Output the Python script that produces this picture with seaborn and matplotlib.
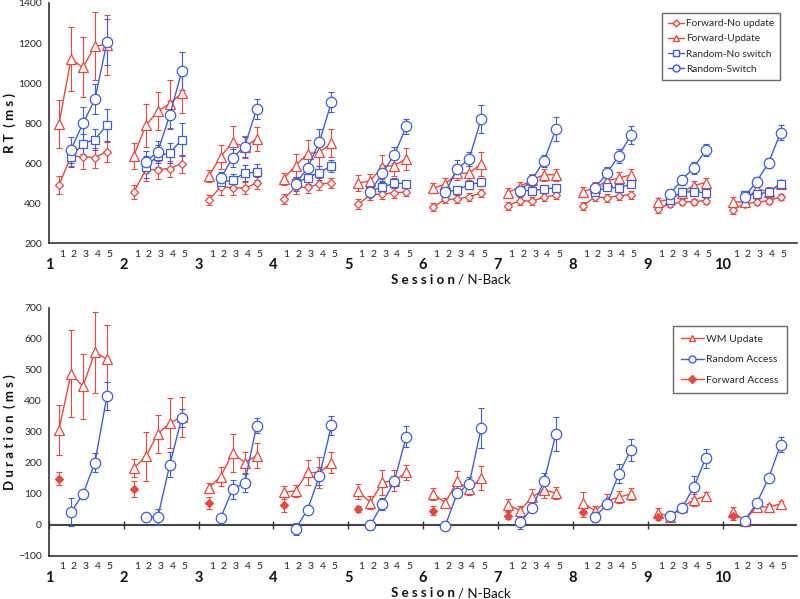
import matplotlib
matplotlib.use("Agg")
import matplotlib.pyplot as plt
from matplotlib.lines import Line2D
from matplotlib.ticker import MultipleLocator
import numpy as np
import pandas as pd
import seaborn as sns

sns.set_style("white")
plt.rcParams["font.family"] = ["Lato", "DejaVu Sans"]

RED = "#E5483F"
BLUE = "#3D5ED8"

sessions = list(range(1, 11))
nback_fwd = [1, 2, 3, 4, 5]
nback_rnd = [2, 3, 4, 5]

# ---- top panel: RT (ms), one list per session ----
fwd_noupd = [[490, 635, 632, 628, 658], [455, 568, 568, 573, 598], [415, 482, 478, 475, 500],
             [420, 480, 480, 495, 502], [395, 443, 445, 453, 455], [380, 420, 420, 433, 450],
             [388, 413, 410, 430, 440], [388, 430, 428, 437, 443], [372, 397, 405, 408, 413],
             [367, 397, 405, 413, 430]]
fwd_noupd_err = [[45, 50, 60, 50, 50], [35, 55, 45, 40, 45], [25, 40, 35, 30, 30],
                 [25, 35, 30, 30, 25], [25, 25, 25, 25, 20], [20, 20, 20, 20, 20],
                 [20, 20, 20, 20, 20], [20, 20, 20, 20, 20], [20, 15, 15, 15, 15],
                 [20, 15, 15, 15, 15]]
fwd_upd = [[795, 1120, 1078, 1185, 1192], [637, 788, 860, 897, 950], [535, 632, 705, 680, 722],
           [522, 588, 647, 655, 700], [500, 512, 583, 588, 622], [475, 495, 550, 550, 597],
           [453, 483, 517, 542, 542], [458, 475, 512, 525, 542], [407, 420, 453, 488, 503],
           [407, 405, 472, 457, 495]]
fwd_upd_err = [[120, 160, 150, 170, 150], [65, 105, 95, 120, 100], [30, 60, 80, 55, 60],
               [30, 60, 70, 70, 70], [40, 35, 60, 50, 55], [25, 30, 35, 35, 60],
               [25, 25, 30, 30, 30], [25, 30, 30, 30, 30], [20, 20, 25, 25, 25],
               [25, 20, 25, 25, 20]]
rnd_nosw = [[630, 698, 718, 790], [583, 637, 650, 718], [505, 515, 550, 555],
            [500, 528, 553, 588], [462, 480, 500, 498], [455, 467, 492, 505],
            [463, 463, 470, 477], [455, 480, 475, 497], [415, 458, 455, 453],
            [442, 445, 455, 498]]
rnd_nosw_err = [[50, 50, 50, 80], [55, 55, 50, 80], [25, 30, 40, 40], [30, 30, 35, 30],
                [25, 25, 25, 20], [20, 20, 20, 20], [20, 20, 20, 20], [20, 20, 20, 20],
                [20, 20, 20, 20], [20, 20, 20, 20]]
rnd_sw = [[668, 798, 918, 1203], [607, 658, 840, 1058], [525, 628, 683, 870],
          [497, 575, 708, 905], [458, 550, 642, 783], [455, 570, 622, 820],
          [463, 517, 613, 770], [475, 550, 638, 740], [445, 515, 578, 665],
          [433, 508, 603, 753]]
rnd_sw_err = [[65, 80, 75, 115], [55, 55, 70, 95], [30, 45, 50, 50], [35, 50, 60, 50],
              [25, 40, 40, 35], [25, 45, 35, 70], [25, 25, 30, 60], [25, 30, 35, 45],
              [20, 25, 30, 30], [20, 25, 25, 35]]

# ---- bottom panel: Duration (ms) ----
wm_upd = [[307, 488, 447, 557, 535], [183, 221, 293, 329, 348], [119, 156, 232, 201, 223],
          [105, 110, 169, 169, 201], [108, 72, 137, 143, 169], [99, 72, 140, 115, 151],
          [65, 46, 90, 113, 102], [70, 46, 76, 90, 99], [38, 27, 57, 81, 92],
          [42, 14, 59, 57, 68]]
wm_upd_err = [[80, 140, 105, 130, 110], [30, 80, 60, 80, 65], [15, 30, 60, 35, 40],
              [20, 20, 40, 50, 35], [25, 20, 40, 35, 25], [20, 15, 35, 20, 40],
              [20, 15, 25, 25, 20], [35, 15, 25, 20, 20], [15, 15, 15, 20, 15],
              [15, 10, 10, 10, 10]]
rnd_acc = [[41, 99, 201, 415], [25, 25, 194, 345], [23, 115, 135, 320], [-13, 49, 158, 321],
           [0, 68, 142, 285], [-3, 102, 133, 312], [8, 54, 142, 294], [25, 67, 165, 242],
           [29, 54, 122, 215], [14, 70, 151, 259]]
rnd_acc_err = [[45, 15, 30, 45], [5, 25, 40, 30], [5, 30, 30, 25], [20, 5, 30, 30],
               [15, 20, 15, 35], [15, 10, 20, 65], [20, 5, 25, 55], [15, 10, 30, 35],
               [15, 10, 35, 30], [10, 10, 10, 25]]
fwd_acc = [149, 115, 70, 65, 52, 46, 30, 40, 27, 30]
fwd_acc_err = [20, 25, 20, 25, 10, 15, 10, 15, 10, 15]

GROUP = 6.25
SHIFT = -0.15


def to_frame(values, errors, nbacks):
    rows = []
    for s, vals, errs in zip(sessions, values, errors):
        for n, v, e in zip(nbacks, vals, errs):
            rows.append({"session": s, "nback": n, "x": (s - 1) * GROUP + n + SHIFT,
                         "y": v, "err": e})
    return pd.DataFrame(rows)


def draw(ax, df, color, marker, ms, filled=False):
    ax.errorbar(df["x"], df["y"], yerr=df["err"], fmt="none", ecolor=color,
                elinewidth=0.8, capsize=2, capthick=0.8, zorder=1)
    sns.lineplot(data=df, x="x", y="y", units="session", estimator=None, ax=ax,
                 color=color, lw=1.0, marker=marker, markersize=ms,
                 markerfacecolor=color if filled else "white",
                 markeredgecolor=color, markeredgewidth=0.9, zorder=3)


def style_axis(ax, ylim, major, minor):
    ax.set_xlim(0, 10 * GROUP - 0.05)
    ax.set_ylim(*ylim)
    ax.yaxis.set_major_locator(MultipleLocator(major))
    ax.yaxis.set_minor_locator(MultipleLocator(minor))
    ax.set_xticks([(s - 1) * GROUP for s in sessions])
    ax.set_xticklabels([])
    ax.tick_params(axis="x", direction="inout", length=6, width=1, color="#333333")
    ax.tick_params(axis="y", which="major", direction="out", length=3, width=0.8,
                   labelsize=7.5, color="#555555", pad=2)
    ax.tick_params(axis="y", which="minor", direction="out", length=2, width=0.6,
                   color="#777777")
    for side in ["top", "right"]:
        ax.spines[side].set_visible(False)
    for side in ["left", "bottom"]:
        ax.spines[side].set_color("#333333")
        ax.spines[side].set_linewidth(1.2)
    ax.set_xlabel("")
    ax.set_ylabel("")


def axis_labels(ax, y_nb, y_ses):
    for s in sessions:
        base = (s - 1) * GROUP
        ax.text(base, y_ses, str(s), transform=ax.get_xaxis_transform(), ha="center",
                va="center", fontsize=10.5, fontweight="bold", color="#111111")
        for n in nback_fwd:
            ax.text(base + n + 0.1, y_nb, str(n), transform=ax.get_xaxis_transform(),
                    ha="center", va="center", fontsize=7.5, color="#222222")


fig = plt.figure(figsize=(8.0, 5.99), dpi=100)
ax1 = fig.add_axes([0.061, 0.594, 0.935, 0.401])
ax2 = fig.add_axes([0.061, 0.072, 0.935, 0.414])

# top panel
draw(ax1, to_frame(fwd_noupd, fwd_noupd_err, nback_fwd), RED, "D", 4.5)
draw(ax1, to_frame(fwd_upd, fwd_upd_err, nback_fwd), RED, "^", 6.5)
draw(ax1, to_frame(rnd_nosw, rnd_nosw_err, nback_rnd), BLUE, "s", 6)
draw(ax1, to_frame(rnd_sw, rnd_sw_err, nback_rnd), BLUE, "o", 7.5)
style_axis(ax1, (200, 1400), 200, 100)
axis_labels(ax1, -0.046, -0.092)

h1 = [Line2D([], [], color=RED, lw=1, marker="D", ms=3.5, mfc="white", mec=RED),
      Line2D([], [], color=RED, lw=1, marker="^", ms=5, mfc="white", mec=RED),
      Line2D([], [], color=BLUE, lw=1, marker="s", ms=5, mfc="white", mec=BLUE),
      Line2D([], [], color=BLUE, lw=1, marker="o", ms=5, mfc="white", mec=BLUE)]
leg1 = ax1.legend(h1, ["Forward-No update", "Forward-Update", "Random-No switch", "Random-Switch"],
                  loc="upper left", bbox_to_anchor=(0.82, 0.958), fontsize=7.3,
                  frameon=True, fancybox=False, edgecolor="#444444", handlelength=1.6,
                  handletextpad=0.15, labelspacing=0.6, borderpad=0.6, borderaxespad=0)
leg1.get_frame().set_linewidth(1.0)

# bottom panel
draw(ax2, to_frame(wm_upd, wm_upd_err, nback_fwd), RED, "^", 6.5)
draw(ax2, to_frame(rnd_acc, rnd_acc_err, nback_rnd), BLUE, "o", 7.5)
fa = pd.DataFrame({"session": sessions, "x": [(s - 1) * GROUP + 1 + SHIFT for s in sessions],
                   "y": fwd_acc, "err": fwd_acc_err})
draw(ax2, fa, RED, "D", 4.5, filled=True)
style_axis(ax2, (-100, 700), 100, 50)
axis_labels(ax2, -0.044, -0.089)
ax2.axhline(0, color="#444444", lw=1.5, zorder=0)
zero_axis = ax2.secondary_xaxis(0.125)
zero_axis.set_xticks([(s - 1) * GROUP for s in sessions])
zero_axis.set_xticklabels([])
zero_axis.tick_params(direction="inout", length=6, width=1, color="#333333")
zero_axis.spines["bottom"].set_visible(False)

h2 = [Line2D([], [], color=RED, lw=1, marker="^", ms=5, mfc="white", mec=RED),
      Line2D([], [], color=BLUE, lw=1, marker="o", ms=5, mfc="white", mec=BLUE),
      Line2D([], [], color=RED, lw=1, marker="D", ms=4, mfc=RED, mec=RED)]
leg2 = ax2.legend(h2, ["WM Update", "Random Access", "Forward Access"],
                  loc="upper left", bbox_to_anchor=(0.834, 0.927), fontsize=7.5,
                  frameon=True, fancybox=False, edgecolor="#444444", handlelength=2.2,
                  handletextpad=0.2, labelspacing=1.1, borderpad=0.8, borderaxespad=0)
leg2.get_frame().set_linewidth(1.0)

# axis titles
fig.text(0.012, 0.795, "R T  ( m s )", rotation=90, ha="center", va="center",
         fontsize=9.5, fontweight="bold", color="#111111")
fig.text(0.012, 0.279, "D u r a t i o n  ( m s )", rotation=90, ha="center", va="center",
         fontsize=9.5, fontweight="bold", color="#111111")
for ypix in [280, 593]:
    fig.text(0.5725, 1 - ypix / 599, "S e s s i o n ", ha="right", va="center",
             fontsize=9.5, fontweight="bold", color="#111111")
    fig.text(0.5725, 1 - ypix / 599, "/ N-Back", ha="left", va="center",
             fontsize=9.5, color="#111111")

fig.savefig("out.png", dpi=100)
